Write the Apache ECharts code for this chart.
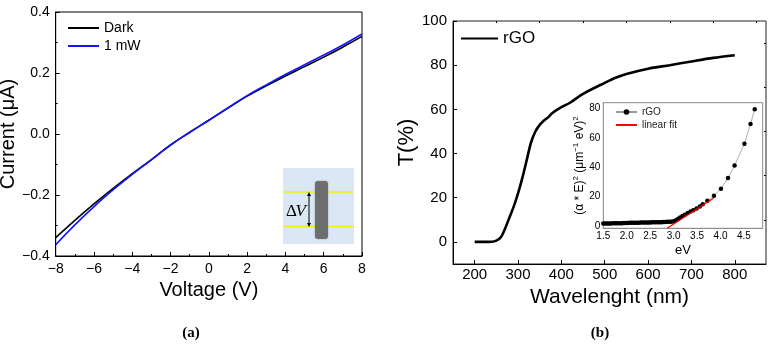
<!DOCTYPE html>
<html>
<head>
<meta charset="utf-8">
<script src="https://cdn.jsdelivr.net/npm/echarts@6/dist/echarts.min.js"></script>
<style>
  html, body { margin: 0; padding: 0; background: #fff; }
  #chart { width: 771px; height: 346px; }
</style>
</head>
<body>
<div id="chart"></div>
<script>
// (a) I-V curves
const voltage = [-8, -7, -6, -5, -4, -3, -2, -1, 0, 1, 2, 3, 4, 5, 6, 7, 8];
const currentDark = [-0.340, -0.283, -0.229, -0.178, -0.130, -0.084, -0.036, 0.006, 0.045, 0.085, 0.124, 0.158, 0.190, 0.221, 0.252, 0.285, 0.320];
const current1mW = [-0.363, -0.298, -0.238, -0.183, -0.132, -0.085, -0.036, 0.005, 0.045, 0.086, 0.126, 0.161, 0.195, 0.227, 0.259, 0.292, 0.328];

// (b) transmittance
const wavelength = [200, 220, 240, 250, 260, 270, 280, 290, 300, 310, 320, 330, 340, 350, 360, 370, 380, 400, 420, 450, 500, 525, 550, 600, 650, 700, 750, 800];
const transmittance = [0, 0, 0.1, 0.6, 2, 6, 11, 16, 22, 29, 37, 45, 50, 53, 55, 56.5, 58.5, 61, 63, 67, 72, 74.3, 76, 78.4, 80, 81.7, 83.3, 84.5];

// (b) inset, Tauc plot
const taucEv = [1.50, 1.54, 1.58, 1.62, 1.66, 1.70, 1.74, 1.78, 1.82, 1.86, 1.90, 1.94, 1.98, 2.02, 2.06, 2.10, 2.14, 2.18, 2.22, 2.26, 2.30, 2.34, 2.38, 2.42, 2.46, 2.50, 2.54, 2.58, 2.62, 2.66, 2.70, 2.74, 2.78, 2.82, 2.86, 2.90, 2.94, 2.98, 3.02, 3.06, 3.10, 3.14, 3.19, 3.24, 3.30, 3.36, 3.42, 3.49, 3.56, 3.62, 3.72, 3.86, 4.01, 4.16, 4.30, 4.51, 4.64, 4.73];
const taucVal = [1.7, 1.7, 1.8, 1.8, 1.8, 1.9, 1.9, 1.9, 2.0, 2.0, 2.0, 2.1, 2.1, 2.1, 2.2, 2.2, 2.2, 2.3, 2.3, 2.3, 2.4, 2.4, 2.4, 2.5, 2.5, 2.5, 2.6, 2.6, 2.6, 2.7, 2.7, 2.7, 2.8, 2.8, 2.9, 2.9, 3.0, 3.1, 3.5, 4.2, 5.0, 5.8, 6.8, 7.8, 8.9, 9.9, 10.8, 12.0, 13.4, 14.8, 17.2, 20.6, 25.5, 32.7, 41.2, 56, 69.5, 79.5];
const fitEv = [2.86, 3.85];
const fitVal = [-1.5, 19];

const xTicksB = [200, 300, 400, 500, 600, 700, 800];
const xMinorB = [250, 350, 450, 550, 650, 750, 850];
const yTicksB = [0, 20, 40, 60, 80, 100];
const yMinorB = [10, 30, 50, 70, 90];
const xTicksInset = [1.5, 2.0, 2.5, 3.0, 3.5, 4.0, 4.5];
const yTicksInset = [0, 20, 40, 60, 80];

const font = 'Liberation Sans, Arial, sans-serif';
const minus = v => String(v).replace('-', '\u2212');

const chart = echarts.init(document.getElementById('chart'), null, { renderer: 'canvas' });

function baseAxis(extra) {
  return Object.assign({
    axisLine: { show: true, onZero: false, lineStyle: { color: '#000', width: 1 } },
    axisTick: { show: true, inside: true, length: 4, lineStyle: { color: '#000' } },
    splitLine: { show: false },
    axisLabel: { color: '#000', fontFamily: font, fontSize: 14, margin: 6 },
    nameTextStyle: { color: '#000', fontFamily: font, fontSize: 20 }
  }, extra);
}

const option = {
  animation: false,
  backgroundColor: '#fff',
  grid: [
    { left: 55.7, top: 12, width: 306.3, height: 244, show: true, borderColor: '#000', borderWidth: 1, outerBoundsMode: 'none' },
    { left: 453, top: 21, width: 313, height: 243, show: true, borderColor: '#222', borderWidth: 1, outerBoundsMode: 'none' },
    { left: 603.3, top: 102.7, width: 159.4, height: 125.6, show: true, borderColor: '#8a8a8a', borderWidth: 1, backgroundColor: '#fff', z: 3, outerBoundsMode: 'none' }
  ],
  legend: [
    {
      data: ['Dark', '1 mW'], left: 67, top: 21, orient: 'vertical', padding: 0,
      itemWidth: 31, itemHeight: 14, itemGap: 4, itemStyle: { opacity: 0 },
      textStyle: { fontFamily: font, fontSize: 14, color: '#000' }
    },
    {
      data: ['rGO'], left: 460, top: 30, padding: 0, itemWidth: 37, itemHeight: 18,
      itemStyle: { opacity: 0 },
      textStyle: { fontFamily: font, fontSize: 17, color: '#000' }
    },
    {
      data: [{ name: 'rGO (Tauc)' }, { name: 'linear fit', itemStyle: { opacity: 0 } }],
      left: 615, top: 107, orient: 'vertical', padding: 0,
      itemWidth: 21, itemHeight: 7, itemGap: 3,
      formatter: n => n.replace(' (Tauc)', ''),
      textStyle: { fontFamily: font, fontSize: 10, color: '#222' }
    }
  ],
  xAxis: [
    baseAxis({
      gridIndex: 0, type: 'value', min: -8, max: 8, interval: 2,
      minorTick: { show: true, splitNumber: 2, length: 2, lineStyle: { color: '#000' } },
      axisLabel: { color: '#000', fontFamily: font, fontSize: 14, margin: 6, formatter: v => minus(v) },
      name: 'Voltage (V)', nameLocation: 'middle', nameGap: 21
    }),
    baseAxis({
      gridIndex: 1, type: 'value', min: 150, max: 872,
      axisLabel: { color: '#000', fontFamily: font, fontSize: 15, margin: 3, customValues: xTicksB },
      axisTick: { show: true, inside: true, length: 4, lineStyle: { color: '#000' }, customValues: xTicksB },
      name: 'Wavelenght (nm)', nameLocation: 'middle', nameGap: 18,
      nameTextStyle: { color: '#000', fontFamily: font, fontSize: 21 }
    }),
    baseAxis({
      gridIndex: 1, type: 'value', min: 150, max: 872,
      axisLine: { show: false, onZero: false },
      axisLabel: { show: false },
      axisTick: { show: true, inside: true, length: 2, lineStyle: { color: '#000' }, customValues: xMinorB }
    }),
    baseAxis({
      gridIndex: 2, type: 'value', min: 1.5, max: 4.9,
      axisLine: { show: true, onZero: false, lineStyle: { color: '#8a8a8a' } },
      axisLabel: { color: '#000', fontFamily: font, fontSize: 10, margin: 3, customValues: xTicksInset, formatter: v => v.toFixed(1) },
      axisTick: { show: true, inside: true, length: 3, lineStyle: { color: '#555' }, customValues: xTicksInset },
      name: 'eV', nameLocation: 'middle', nameGap: 16,
      nameTextStyle: { color: '#000', fontFamily: font, fontSize: 13 }
    })
  ],
  yAxis: [
    baseAxis({
      gridIndex: 0, type: 'value', min: -0.4, max: 0.4, interval: 0.2,
      minorTick: { show: true, splitNumber: 2, length: 2, lineStyle: { color: '#000' } },
      axisLabel: {
        color: '#000', fontFamily: font, fontSize: 14, margin: 6,
        formatter: v => (Math.abs(v) < 1e-9 ? '0.0' : minus(v.toFixed(1)))
      },
      name: 'Current (\u03bcA)', nameLocation: 'middle', nameGap: 32
    }),
    baseAxis({
      gridIndex: 1, type: 'value', min: -10, max: 100,
      axisLabel: { color: '#000', fontFamily: font, fontSize: 15, margin: 6, customValues: yTicksB },
      axisTick: { show: true, inside: true, length: 4, lineStyle: { color: '#000' }, customValues: yTicksB },
      name: 'T(%)', nameLocation: 'middle', nameGap: 32,
      nameTextStyle: { color: '#000', fontFamily: font, fontSize: 22 }
    }),
    baseAxis({
      gridIndex: 2, type: 'value', min: -1.5, max: 84,
      axisLine: { show: true, onZero: false, lineStyle: { color: '#8a8a8a' } },
      axisLabel: { color: '#000', fontFamily: font, fontSize: 10, margin: 3, customValues: yTicksInset },
      axisTick: { show: true, inside: true, length: 3, lineStyle: { color: '#555' }, customValues: yTicksInset },
      name: '(\u03b1 * E){sup|2} (\u03bcm{sup|\u22121} eV){sup|2}', nameLocation: 'middle', nameGap: 13,
      nameTextStyle: {
        color: '#000', fontFamily: font, fontSize: 12,
        rich: { sup: { fontFamily: font, fontSize: 8, verticalAlign: 'top', padding: [0, 0, 6, 0], color: '#000' } }
      }
    }),
    baseAxis({
      gridIndex: 1, type: 'value', min: -10, max: 100,
      axisLine: { show: false, onZero: false },
      axisLabel: { show: false },
      axisTick: { show: true, inside: true, length: 2, lineStyle: { color: '#000' }, customValues: yMinorB }
    })
  ],
  series: [
    {
      name: 'Dark', type: 'line', xAxisIndex: 0, yAxisIndex: 0, smooth: true, symbol: 'none',
      lineStyle: { color: '#000', width: 1.6 }, itemStyle: { color: '#000' },
      data: voltage.map((v, i) => [v, currentDark[i]])
    },
    {
      name: '1 mW', type: 'line', xAxisIndex: 0, yAxisIndex: 0, smooth: true, symbol: 'none',
      lineStyle: { color: '#1414ff', width: 1.6 }, itemStyle: { color: '#1414ff' },
      data: voltage.map((v, i) => [v, current1mW[i]])
    },
    {
      name: 'rGO', type: 'line', xAxisIndex: 1, yAxisIndex: 1, smooth: 0.3, symbol: 'none',
      lineStyle: { color: '#000', width: 2.6 }, itemStyle: { color: '#000' },
      data: wavelength.map((w, i) => [w, transmittance[i]])
    },
    {
      name: 'rGO (Tauc)', type: 'line', xAxisIndex: 3, yAxisIndex: 2, z: 4,
      symbol: 'circle', symbolSize: 4.5, showSymbol: true,
      lineStyle: { color: '#9a9a9a', width: 0.8 }, itemStyle: { color: '#000' },
      data: taucEv.map((e, i) => [e, taucVal[i]])
    },
    {
      name: 'linear fit', type: 'line', xAxisIndex: 3, yAxisIndex: 2, z: 5, symbol: 'none',
      lineStyle: { color: '#ff0000', width: 1.2 }, itemStyle: { color: '#ff0000' },
      data: fitEv.map((e, i) => [e, fitVal[i]])
    }
  ],
  graphic: [
    // device sketch in panel (a)
    { type: 'rect', shape: { x: 283, y: 168, width: 71, height: 76 }, style: { fill: '#dbe7f4' }, z: 10 },
    { type: 'line', shape: { x1: 283, y1: 192, x2: 354, y2: 192 }, style: { stroke: '#f2f200', lineWidth: 1.5 }, z: 11 },
    { type: 'line', shape: { x1: 283, y1: 226.5, x2: 354, y2: 226.5 }, style: { stroke: '#f2f200', lineWidth: 1.5 }, z: 11 },
    { type: 'rect', shape: { x: 315, y: 181, width: 13, height: 58, r: 3 }, style: { fill: '#6e6e6e', shadowBlur: 2, shadowColor: 'rgba(0,0,0,0.3)' }, z: 12 },
    { type: 'line', shape: { x1: 309, y1: 194, x2: 309, y2: 225 }, style: { stroke: '#000', lineWidth: 1 }, z: 12 },
    { type: 'polygon', shape: { points: [[309, 192], [307, 196], [311, 196]] }, style: { fill: '#000' }, z: 12 },
    { type: 'polygon', shape: { points: [[309, 227], [307, 223], [311, 223]] }, style: { fill: '#000' }, z: 12 },
    { type: 'text', x: 286, y: 212, style: { text: '\u0394', font: '17px Liberation Serif, serif', fill: '#000', verticalAlign: 'middle' }, z: 12 },
    { type: 'text', x: 295.5, y: 212, style: { text: 'V', font: 'italic 17px Liberation Serif, serif', fill: '#000', verticalAlign: 'middle' }, z: 12 },
    // panel captions
    { type: 'text', x: 191, y: 333, style: { text: '(a)', font: 'bold 15px Liberation Serif, serif', fill: '#000', align: 'center', verticalAlign: 'middle' } },
    { type: 'text', x: 600, y: 333, style: { text: '(b)', font: 'bold 15px Liberation Serif, serif', fill: '#000', align: 'center', verticalAlign: 'middle' } }
  ]
};

chart.setOption(option);
</script>
</body>
</html>
